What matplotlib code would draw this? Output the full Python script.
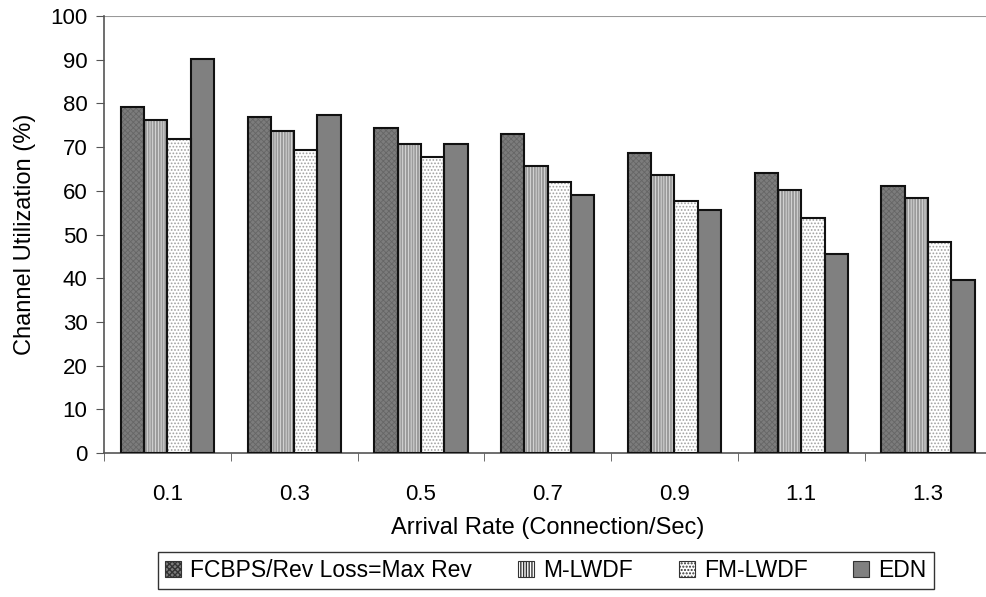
import matplotlib.pyplot as plt
import numpy as np

plt.rcParams['font.family'] = ['Liberation Sans', 'DejaVu Sans']

rates = ['0.1', '0.3', '0.5', '0.7', '0.9', '1.1', '1.3']
fcbps = [79.2, 76.9, 74.4, 72.9, 68.6, 64.1, 61.1]
mlwdf = [76.2, 73.6, 70.8, 65.7, 63.7, 60.2, 58.4]
fmlwdf = [71.9, 69.4, 67.7, 62.0, 57.6, 53.8, 48.2]
edn = [90.2, 77.3, 70.7, 59.0, 55.7, 45.5, 39.5]
names = ['FCBPS/Rev Loss=Max Rev', 'M-LWDF', 'FM-LWDF', 'EDN']

# face colour, hatch, hatch colour, hatch width
styles = [
    ('#7c7c7c', 'xxxxxx', '#666666', 0.6),
    ('white', '||||||', '#9c9c9c', 1.6),
    ('white', '.....', '#a0a0a0', 0.8),
    ('#808080', '', '#808080', 0.5),
]

fig = plt.figure(figsize=(9.87, 5.97), dpi=100)
ax = fig.add_axes([0.1054, 0.2412, 0.899, 0.732])

x = np.arange(len(rates))
w = 0.184
series = [fcbps, mlwdf, fmlwdf, edn]
handles = []
for i, (vals, name) in enumerate(zip(series, names)):
    fc, hatch, hc, hw = styles[i]
    pos = x - 1.5 * w + i * w
    plt.rcParams['hatch.linewidth'] = hw
    ax.bar(pos, vals, w, color=fc, hatch=hatch, edgecolor=hc, linewidth=0, zorder=2)
    ax.bar(pos, vals, w, fill=False, edgecolor='#111111', linewidth=1.5, zorder=3)
    handles.append(plt.Rectangle((0, 0), 1, 1, facecolor=fc, hatch=hatch,
                                 edgecolor='#333333', linewidth=0.8))
plt.rcParams['hatch.linewidth'] = 1.0

ax.set_xlim(-0.5, len(rates) - 0.5)
ax.set_ylim(0, 100)
ax.set_yticks(np.arange(0, 101, 10))
ax.set_xticks(x)
ax.set_xticklabels(rates)
ax.set_xticks(np.arange(-0.5, len(rates), 1), minor=True)
ax.tick_params(axis='x', which='major', length=0, pad=22, labelsize=16)
ax.tick_params(axis='x', which='minor', length=6, direction='out', color='#555555')
ax.tick_params(axis='y', length=6, direction='out', color='#555555', labelsize=16, pad=6)
ax.axhline(100, color='#999999', linewidth=1.5, zorder=1)

for s in ['top', 'right']:
    ax.spines[s].set_visible(False)
for s in ['left', 'bottom']:
    ax.spines[s].set_color('#555555')
    ax.spines[s].set_linewidth(1.2)

ax.set_xlabel('Arrival Rate (Connection/Sec)', fontsize=17, labelpad=9)
ax.set_ylabel('Channel Utilization (%)', fontsize=17, labelpad=10)

leg = fig.legend(handles, names, loc='lower center', bbox_to_anchor=(0.553, -0.005), ncol=4,
                 fontsize=16.5, frameon=True, fancybox=False, edgecolor='black',
                 handlelength=0.7, handleheight=0.7, handletextpad=0.4, columnspacing=2.0,
                 borderpad=0.3)
leg.get_frame().set_linewidth(1.0)

fig.savefig('out.png', dpi=100)
